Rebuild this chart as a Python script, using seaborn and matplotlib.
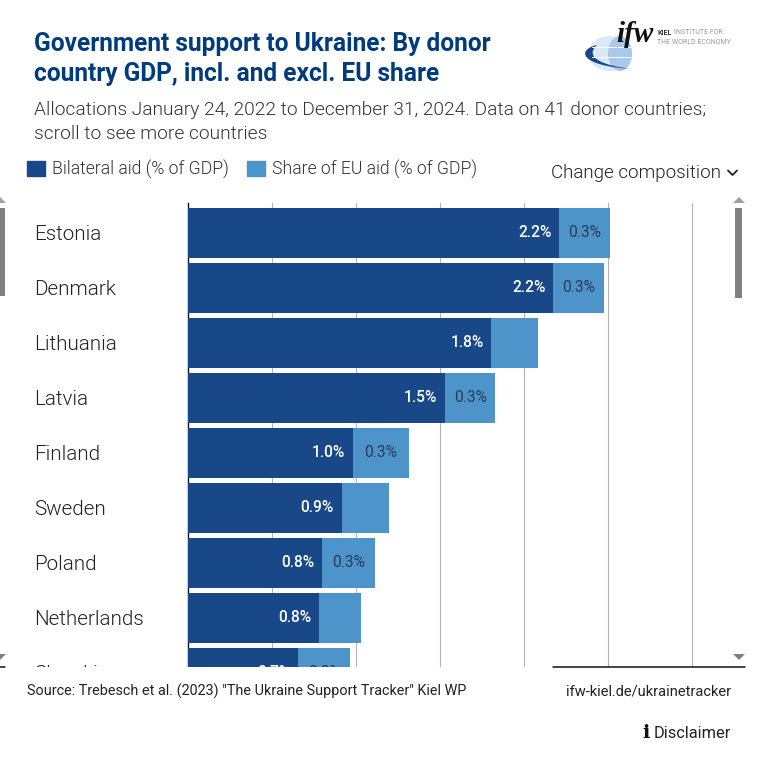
import matplotlib
matplotlib.use("Agg")
import matplotlib.pyplot as plt
import seaborn as sns
from matplotlib.patches import Ellipse, Patch, Polygon, Rectangle, PathPatch
from matplotlib.path import Path

countries = ["Estonia", "Denmark", "Lithuania", "Latvia", "Finland", "Sweden", "Poland", "Netherlands", "Slovakia"]
bilateral = [2.21, 2.175, 1.805, 1.53, 0.98, 0.915, 0.80, 0.78, 0.655]
eu_share = [0.30, 0.30, 0.28, 0.30, 0.335, 0.28, 0.315, 0.25, 0.31]
bilateral_labels = ["2.2%", "2.2%", "1.8%", "1.5%", "1.0%", "0.9%", "0.8%", "0.8%", "0.7%"]
eu_labels = ["0.3%", "0.3%", "", "0.3%", "0.3%", "", "0.3%", "", "0.3%"]
total = [b + e for b, e in zip(bilateral, eu_share)]

DARK = "#194889"
LIGHT = "#4d94cb"
NAVY = "#003c7d"
TEXT = "#333333"

sns.set_style("white")
plt.rcParams["font.family"] = ["Roboto", "DejaVu Sans"]

W = 764
fig = plt.figure(figsize=(7.64, 7.64), dpi=100)

# chart area, in pixels of the reference (runs past 667, the rest gets masked)
ax = fig.add_axes([188 / W, 1 - 680 / W, (745 - 188) / W, (680 - 203) / W])
sns.barplot(x=total, y=countries, color=LIGHT, width=50 / 55, saturation=1, orient="h", ax=ax, zorder=2, linewidth=0)
sns.barplot(x=bilateral, y=countries, color=DARK, width=50 / 55, saturation=1, orient="h", ax=ax, zorder=3, linewidth=0)

ax.set_xlim(0, (745 - 188) / 168)
ax.set_ylim((680 - 232.5) / 55, -29.5 / 55)
ax.set_xticks([0.5, 1, 1.5, 2, 2.5, 3])
ax.set_xticklabels([])
ax.set_xlabel("")
ax.set_ylabel("")
ax.grid(axis="x", color="#b3b3b3", lw=0.8)
ax.set_axisbelow(True)
ax.tick_params(axis="both", length=0)
ax.tick_params(axis="y", pad=154 * 0.72, labelsize=14.9, labelcolor="#222222")

for s in ["top", "right", "bottom"]:
    ax.spines[s].set_visible(False)
ax.spines["left"].set_color("#111111")
ax.spines["left"].set_linewidth(1)

for lab in ax.get_yticklabels():
    lab.set_ha("left")
    lab.set_fontweight(300)

ax.bar_label(ax.containers[1], labels=bilateral_labels, label_type="edge", padding=-29.5, color="white",
             fontsize=11.2, fontweight=500, annotation_clip=False)
for i, lab in enumerate(eu_labels):
    ax.annotate(lab, (bilateral[i] + eu_share[i] / 2, i), ha="center", va="center", color="#2a3a50", fontsize=11.2)

# titles
fig.text(34 / W, 1 - 44.5 / W, "Government support to Ukraine: By donor", color=NAVY, fontsize=17.65,
         fontweight="bold", va="center")
fig.text(34 / W, 1 - 74.5 / W, "country GDP, incl. and excl. EU share", color=NAVY, fontsize=17.65,
         fontweight="bold", va="center")
fig.text(34 / W, 1 - 110 / W, "Allocations January 24, 2022 to December 31, 2024. Data on 41 donor countries;",
         color=TEXT, fontsize=13.8, fontweight=300, va="center")
fig.text(34 / W, 1 - 134 / W, "scroll to see more countries", color=TEXT, fontsize=13.8, fontweight=300, va="center")

# legend
handles = [Patch(color=DARK, label="Bilateral aid (% of GDP)"), Patch(color=LIGHT, label="Share of EU aid (% of GDP)")]
fig.legend(handles=handles, loc="center left", bbox_to_anchor=(27 / W, 1 - 169.5 / W), ncol=2, frameon=False,
           labelcolor=TEXT, borderpad=0, borderaxespad=0, handlelength=1.0, handleheight=0.96,
           handletextpad=0.39, columnspacing=1.07, prop={"weight": 300, "size": 12.7})

fig.text(551 / W, 1 - 173 / W, "Change composition", color="#222222", fontsize=13.5, fontweight=300, va="center")
fig.text(27 / W, 1 - 691 / W, 'Source: Trebesch et al. (2023) "The Ukraine Support Tracker" Kiel WP', color="#222222",
         fontsize=10.35, va="center", zorder=5)
fig.text(731 / W, 1 - 692 / W, "ifw-kiel.de/ukrainetracker", color="#222222", fontsize=10.5, ha="right", va="center")
fig.text(731 / W, 1 - 733 / W, "Disclaimer", color="#222222", fontsize=11.8, ha="right", va="center")

# overlay in reference pixels for the page furniture
ov = fig.add_axes([0, 0, 1, 1], facecolor="none")
ov.set_xlim(0, W)
ov.set_ylim(W, 0)
ov.axis("off")

# mask the overflow of the scroll area
ov.add_patch(Rectangle((0, 667), W, 15, color="white", lw=0))
ov.plot([553, 745], [667, 667], color="#111111", lw=1.1)
ov.plot([0, 5], [667, 667], color="#111111", lw=1.1)

ov.plot([728, 732.5, 737], [170.5, 175, 170.5], color="#222222", lw=1.3)
ov.text(646, 733, "i", fontsize=14, fontweight="bold", ha="center", va="center", color="#111111", family="DejaVu Serif")

# scrollbars
ov.add_patch(Rectangle((0, 208), 5, 88, color="#808080", lw=0))
ov.add_patch(Rectangle((735, 208), 7, 90, color="#808080", lw=0))
for x0 in (-6, 733):
    ov.add_patch(Polygon([(x0, 203), (x0 + 6, 197), (x0 + 12, 203)], color="#a0a0a0", lw=0))
    ov.add_patch(Polygon([(x0, 654), (x0 + 12, 654), (x0 + 6, 660)], color="#808080", lw=0))

# logo
ov.add_patch(Ellipse((610, 53.5), 44, 35, color="#dbe8f6", lw=0))
ov.add_patch(Ellipse((620, 53.5), 24, 35, color="#a8c9ec", lw=0))
for dy in (-7, 3):
    ov.plot([592, 630], [53.5 + dy, 53.5 + dy], color="white", lw=0.7)
ov.add_patch(PathPatch(Path([(597, 45), (576, 50), (580, 66), (632, 69), (605, 66), (583, 58), (597, 45)],
                            [1, 4, 4, 4, 4, 4, 4]), color=DARK, lw=0))
ov.text(635, 35, "ifw", fontsize=21, fontweight="bold", style="italic", ha="center", va="center", color="#111111",
        family="Liberation Serif")
ov.text(657, 33, "KIEL", fontsize=5, fontweight="bold", va="center", color="#333333")
ov.text(674, 33, "INSTITUTE FOR", fontsize=5, va="center", color="#999999")
ov.text(657, 42, "THE WORLD ECONOMY", fontsize=5, va="center", color="#999999")

fig.savefig("out.png", dpi=100)
